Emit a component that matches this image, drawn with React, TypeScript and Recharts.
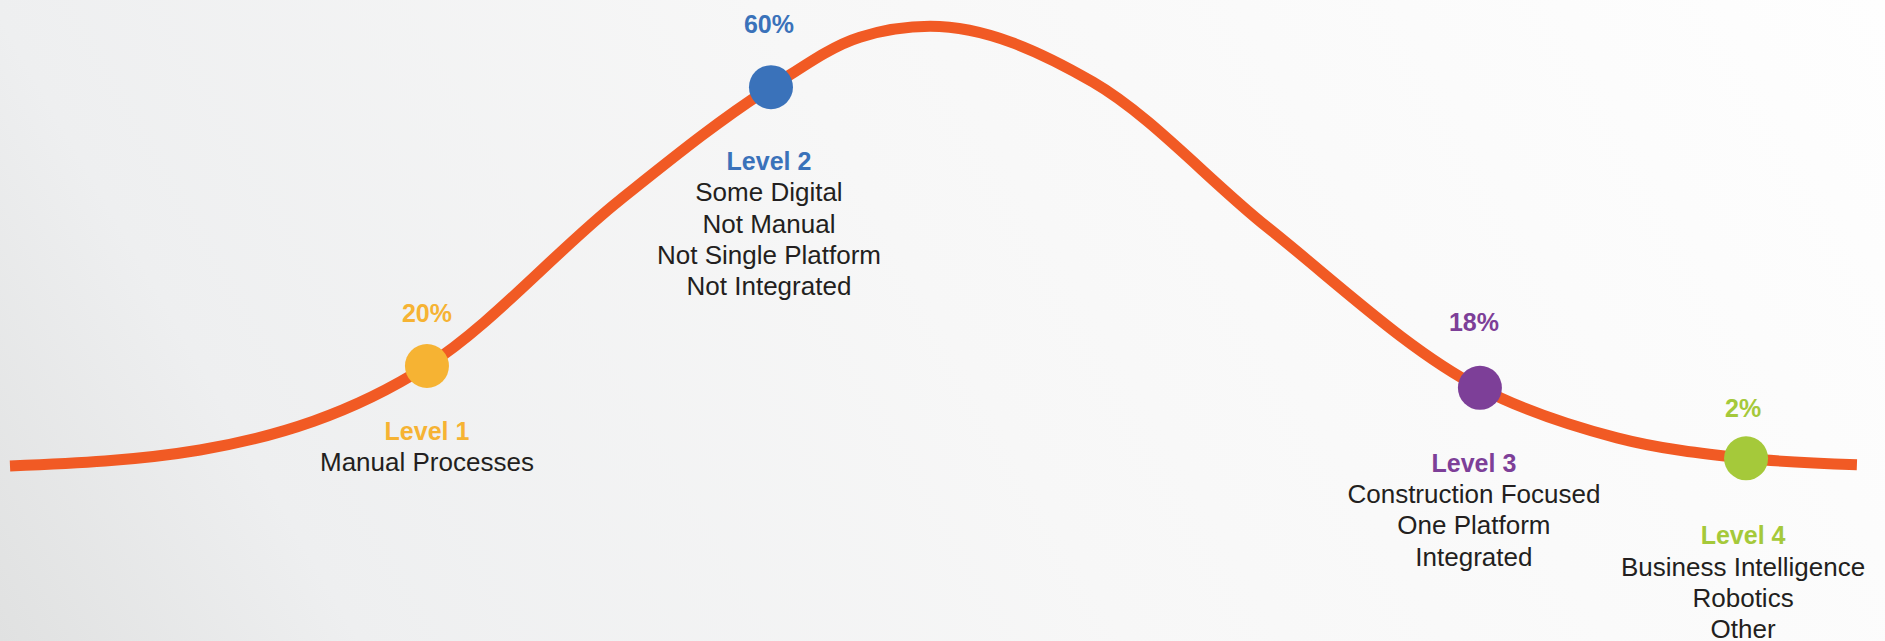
import React from 'react';
import { ComposedChart, Line, Scatter, XAxis, YAxis } from 'recharts';

// adoption curve, x = position along the maturity scale, y = relative height (0-100)
const curveX = [0.53, 10.61, 22.65, 32.89, 40.9, 45.62, 49.34, 57.98, 67.21, 78.51, 85.78, 92.63, 98.51];
const curveY = [27.3, 29.8, 42.9, 68.8, 86.4, 94.2, 95.9, 87.2, 64.6, 39.5, 31.7, 28.5, 27.5];

const levelNames = ['Level 1', 'Level 2', 'Level 3', 'Level 4'];
const levelShares = [20, 60, 18, 2];
const levelX = [22.65, 40.9, 78.51, 92.63];
const levelY = [42.9, 86.4, 39.5, 28.5];
const levelNotes = [
  ['Manual Processes'],
  ['Some Digital', 'Not Manual', 'Not Single Platform', 'Not Integrated'],
  ['Construction Focused', 'One Platform', 'Integrated'],
  ['Business Intelligence', 'Robotics', 'Other'],
];

const levelColors = ['#F6B333', '#3A72BA', '#7D3F98', '#A5C93A'];
// label placement per level (px from the dot)
const pctGap = [44, 54, 57, 41];
const titleGap = [74, 83, 84, 86];
const textDx = [0, -2, -6, -3];
const lineStep = 31.3;

const curve = curveX.map((x, i) => ({ x, y: curveY[i] }));
const levels = levelX.map((x, i) => ({
  x,
  y: levelY[i],
  name: levelNames[i],
  share: levelShares[i],
  notes: levelNotes[i],
  idx: i,
}));

const font = '"Liberation Sans", Arial, sans-serif';

const LevelMark = (props: any) => {
  const { cx, cy, payload } = props;
  const i = payload.idx;
  const color = levelColors[i];
  const tx = cx + textDx[i];
  return (
    <g>
      <circle cx={cx} cy={cy} r={22} fill={color} />
      <text x={tx} y={cy - pctGap[i]} textAnchor="middle" fontFamily={font} fontSize={25} fontWeight="bold" fill={color}>
        {payload.share}%
      </text>
      <text x={tx} y={cy + titleGap[i]} textAnchor="middle" fontFamily={font} fontSize={25} fontWeight="bold" fill={color}>
        {payload.name}
      </text>
      {payload.notes.map((n: string, k: number) => (
        <text
          key={n}
          x={tx}
          y={cy + titleGap[i] + lineStep * (k + 1)}
          textAnchor="middle"
          fontFamily={font}
          fontSize={26}
          fill="#231F20"
        >
          {n}
        </text>
      ))}
    </g>
  );
};

export default function App() {
  return (
    <div
      style={{
        position: 'absolute',
        left: 0,
        top: 0,
        width: 1885,
        height: 641,
        overflow: 'hidden',
        background: 'linear-gradient(60deg, #e0e1e1 0%, #eeeff0 16%, #f7f7f7 50%, #fefefe 100%)',
      }}
    >
      <ComposedChart width={1885} height={641} margin={{ top: 0, right: 0, bottom: 0, left: 0 }}>
        <XAxis type="number" dataKey="x" domain={[0, 100]} hide />
        <YAxis type="number" domain={[0, 100]} hide />
        <Line
          data={curve}
          dataKey="y"
          type="monotone"
          stroke="#F15A24"
          strokeWidth={11}
          dot={false}
          activeDot={false}
          isAnimationActive={false}
        />
        <Scatter data={levels} dataKey="y" shape={LevelMark} isAnimationActive={false} />
      </ComposedChart>
    </div>
  );
}
